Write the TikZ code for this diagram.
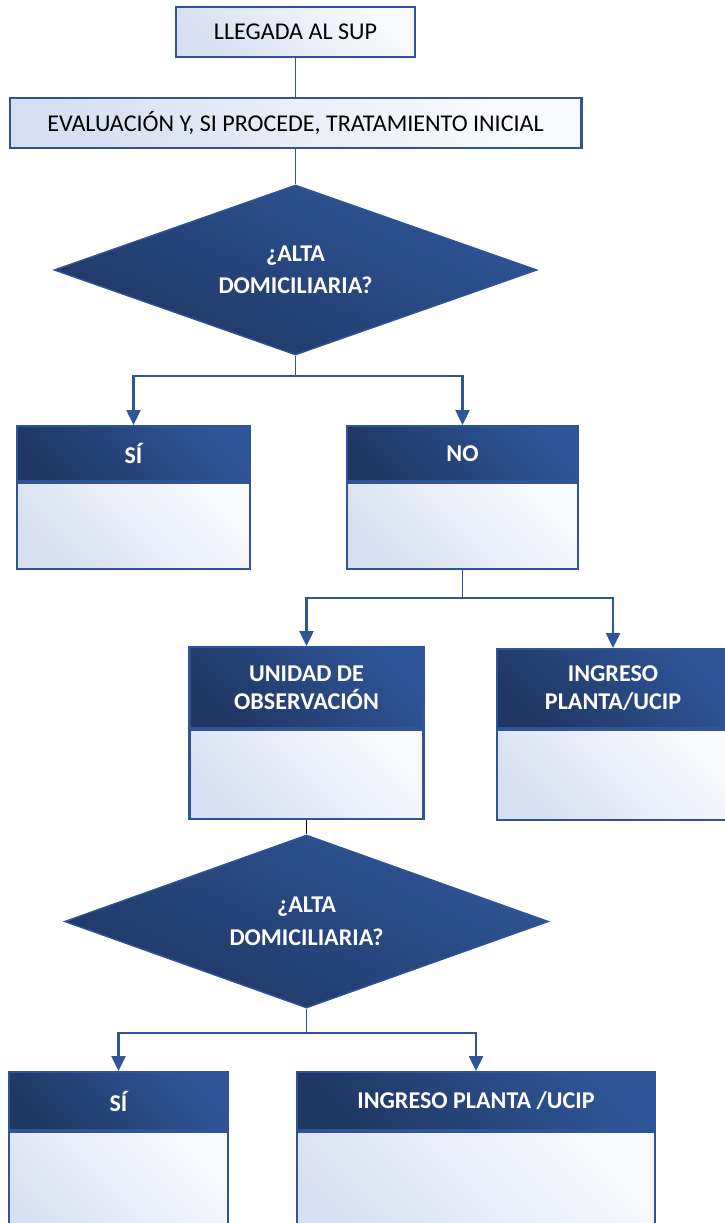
\documentclass[tikz,border=0pt]{standalone}
\usepackage{fontspec}
\setmainfont{Carlito}
\usepackage{xcolor}
\usetikzlibrary{shapes.geometric, arrows.meta, positioning}

\definecolor{edgeblue}{RGB}{47,85,151}
\definecolor{darkblue}{RGB}{31,55,99}
\definecolor{midblue}{RGB}{47,86,153}
\definecolor{paleblue}{RGB}{215,224,242}
\definecolor{whiteblue}{RGB}{249,250,253}
\newcommand{\chartfont}{\fontsize{13.7}{16}\selectfont}

\begin{document}
\begin{tikzpicture}[x=0.02cm, y=-0.02cm,
            startbox/.style={draw=edgeblue, line width=1.2pt, top color=whiteblue, bottom color=paleblue, shading angle=-45, minimum height=1cm, inner sep=0pt, font=\chartfont, text=black},
            head/.style={draw=edgeblue, line width=1.2pt, top color=midblue, bottom color=darkblue, shading angle=-45, inner sep=0pt, align=center, font=\chartfont\bfseries, text=white},
            body/.style={draw=edgeblue, line width=1.2pt, top color=whiteblue, bottom color=paleblue, shading angle=-45, inner sep=0pt},
            decision/.style={diamond, aspect=3, draw=edgeblue, line width=0.8pt, top color=midblue, bottom color=darkblue, shading angle=-25, inner sep=0pt, align=center, font=\fontsize{13.7}{18.5}\selectfont\bfseries, text=white},
            link/.style={draw=edgeblue, line width=1pt},
            arrow/.style={link, line width=1.3pt, -{Triangle[width=8pt,length=8.5pt]}}]

            \useasboundingbox (0,0) rectangle (724,1223);

            % Entry
            \node (arrive) [startbox, minimum width=4.78cm] at (295.5,32) {LLEGADA AL SUP};
            \node (assess) [startbox, minimum width=11.44cm] at (295.5,123) {EVALUACIÓN Y, SI PROCEDE, TRATAMIENTO INICIAL};
            \node (dec1) [decision, minimum width=9.66cm, minimum height=3.4cm] at (295.5,270) {¿ALTA\\DOMICILIARIA?};

            % First answer
            \node (siA) [head, minimum width=4.66cm, minimum height=1.1cm] at (133.5,453.5) {SÍ};
            \node (siAbody) [body, minimum width=4.66cm, minimum height=1.72cm, below=0pt of siA] {};
            \node (noA) [head, minimum width=4.62cm, minimum height=1.1cm] at (462.5,453.5) {NO};
            \node (noAbody) [body, minimum width=4.62cm, minimum height=1.72cm, below=0pt of noA] {};

            % After NO
            \node (obs) [head, minimum width=4.68cm, minimum height=1.62cm] at (306.5,687.5) {UNIDAD DE\\OBSERVACIÓN};
            \node (obsbody) [body, minimum width=4.68cm, minimum height=1.78cm, below=0pt of obs] {};
            \node (wardA) [head, minimum width=4.64cm, minimum height=1.58cm] at (613,688.5) {INGRESO\\PLANTA/UCIP};
            \node (wardAbody) [body, minimum width=4.64cm, minimum height=1.8cm, below=0pt of wardA] {};

            % Second decision
            \node (dec2) [decision, minimum width=9.68cm, minimum height=3.46cm] at (306.5,921.5) {¿ALTA\\DOMICILIARIA?};
            \node (siB) [head, minimum width=4.38cm, minimum height=1.16cm] at (118.5,1101) {SÍ};
            \node (siBbody) [body, minimum width=4.38cm, minimum height=2.4cm, below=0pt of siB] {};
            \node (wardB) [head, minimum width=7.16cm, minimum height=1.16cm] at (476,1101) {INGRESO PLANTA /UCIP};
            \node (wardBbody) [body, minimum width=7.16cm, minimum height=2.4cm, below=0pt of wardB] {};

            % Connections
            \draw [link] (arrive) -- (assess);
            \draw [link] (assess) -- (dec1);
            \draw [link] (dec1.south) -- ++(0,20) coordinate (fork1);
            \draw [arrow] (fork1) -| (siA.north);
            \draw [arrow] (fork1) -| (noA.north);
            \draw [link] (noAbody.south) -- ++(0,28) coordinate (fork2);
            \draw [arrow] (fork2) -| (obs.north);
            \draw [arrow] (fork2) -| (wardA.north);
            \draw [link, draw=black] (obsbody.south) -- (dec2.north);
            \draw [link] (dec2.south) -- ++(0,24) coordinate (fork3);
            \draw [arrow] (fork3) -| (siB.north);
            \draw [arrow] (fork3) -| (wardB.north);
\end{tikzpicture}
\end{document}
